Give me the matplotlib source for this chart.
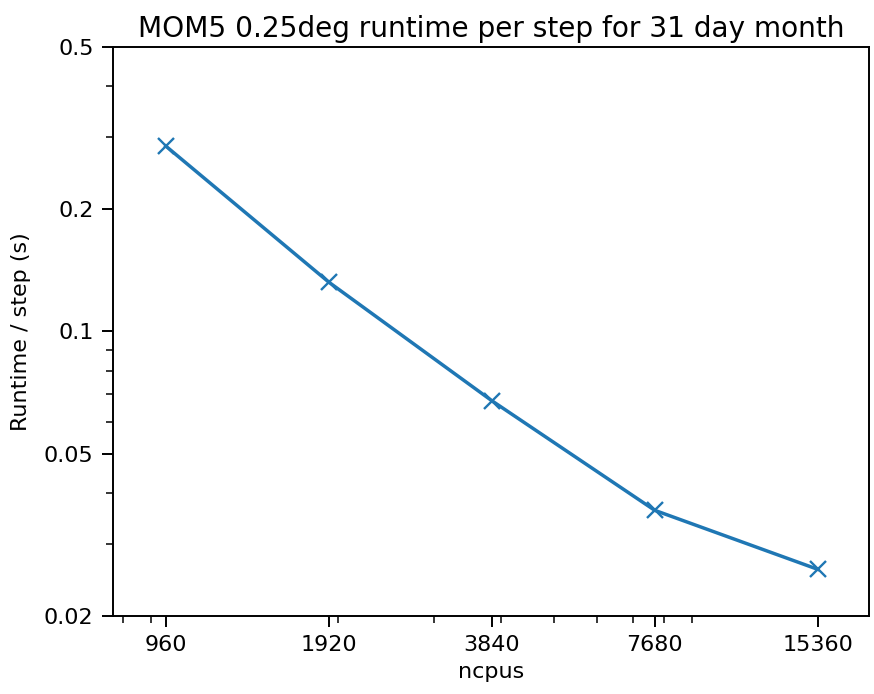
import matplotlib
matplotlib.use("Agg")
import matplotlib.pyplot as plt

# ncpus vs runtime per step
ncpus = [960, 1920, 3840, 7680, 15360]
runtime = [0.285, 0.132, 0.0675, 0.0363, 0.026]
ytick_vals = [0.02, 0.05, 0.1, 0.2, 0.5]
ytick_labels = ["0.02", "0.05", "0.1", "0.2", "0.5"]


def main():
	fig = plt.figure(figsize=(8.74, 6.94), dpi=100)
	ax = fig.add_axes([0.1293, 0.1128, 0.8650, 0.8199])

	ax.plot(ncpus, runtime, marker="x", color="#1f77b4", linewidth=2.5, markersize=11, markeredgewidth=1.7)

	ax.set_xscale("log")
	ax.set_yscale("log")
	ax.set_xlim(767, 19100)
	ax.set_ylim(0.02, 0.5)

	ax.set_xticks(ncpus)
	ax.set_xticklabels([str(n) for n in ncpus])
	ax.set_yticks(ytick_vals)
	ax.set_yticklabels(ytick_labels)

	ax.tick_params(which="major", labelsize=16, length=8, width=1.4, pad=6)
	ax.tick_params(which="minor", length=5, width=1.1)
	for s in ax.spines.values():
		s.set_linewidth(1.4)

	ax.set_xlabel("ncpus", fontsize=16, labelpad=5)
	ax.set_ylabel("Runtime / step (s)", fontsize=16, labelpad=9)
	ax.set_title("MOM5 0.25deg runtime per step for 31 day month", fontsize=20.2, pad=7)

	fig.savefig("out.png", dpi=100)


if __name__ == "__main__":
	main()
